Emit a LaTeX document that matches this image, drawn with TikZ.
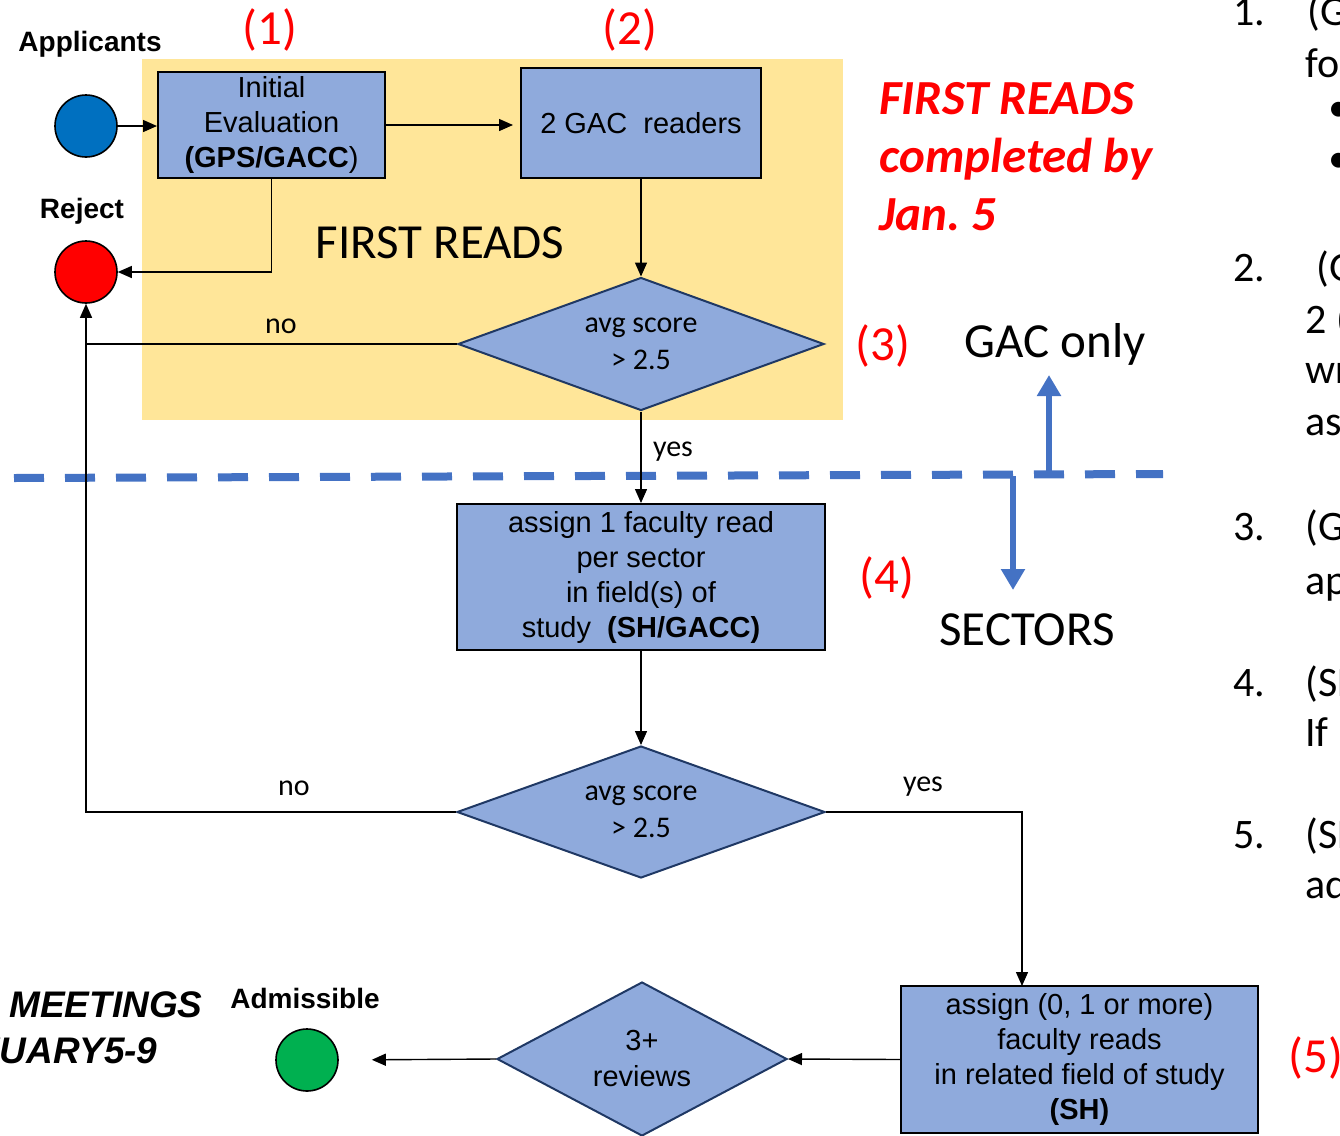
\documentclass[tikz,border=0pt]{standalone}
\usepackage{fontspec}
\setmainfont{Carlito}
\newfontfamily\arialfont{Liberation Sans}
\usetikzlibrary{arrows.meta}
\usetikzlibrary{positioning}
\usetikzlibrary{shapes.geometric}
\frenchspacing
\definecolor{boxblue}{RGB}{143,170,220}
\definecolor{readyellow}{RGB}{255,230,153}
\definecolor{splitblue}{RGB}{68,114,196}
\definecolor{edgenavy}{RGB}{31,56,100}
\definecolor{appblue}{RGB}{0,112,192}
\definecolor{admgreen}{RGB}{0,176,80}
\tikzset{
    process box/.style={
        draw=black,
        line width=1pt,
        fill=boxblue,
        align=center,
        inner sep=0,
        font=\arialfont\fontsize{14.5}{17.5}\selectfont,
    },
    decision/.style={
        diamond,
        draw=edgenavy,
        line width=1pt,
        fill=boxblue,
        align=center,
        inner sep=0,
    },
    state dot/.style={
        draw,
        circle,
        line width=0.8pt,
        minimum size=31pt,
        inner sep=0,
    },
    flow line/.style={
        line width=0.7pt,
    },
    flow arrow/.style={
        flow line,
        -{Triangle[length=7pt,width=6pt]},
    },
    split arrow/.style={
        splitblue,
        line width=2.8pt,
        -{Triangle[length=10.5pt,width=11.5pt]},
    },
    step number/.style={
        text=red,
        font=\fontsize{24.5}{29}\selectfont,
    },
    side label/.style={
        font=\fontsize{24.5}{29}\selectfont,
    },
    branch label/.style={
        font=\fontsize{15}{18}\selectfont,
    },
    dot label/.style={
        font=\arialfont\bfseries\fontsize{14}{17}\selectfont,
    },
    list text/.style={
        anchor=base west,
        inner sep=0,
        font=\fontsize{21}{25}\selectfont,
    },
}

\begin{document}
\begin{tikzpicture}[x=0.5pt,y=-0.5pt]
    \useasboundingbox (0,0) rectangle (1340,1136);

    \fill[readyellow] (142,59) rectangle (843,420);

    % separator between GAC and sectors
    \coordinate (splitleft) at (14,478);
    \coordinate (splitright) at (1163,474);
    \draw[splitblue, line width=4pt, dash pattern=on 15pt off 10.5pt] (splitleft) -- (splitright);
    \coordinate (upfoot) at (1049,474);
    \coordinate (uptip) at (1049,375);
    \coordinate (downfoot) at (1013,476);
    \coordinate (downtip) at (1013,590);
    \draw[split arrow] (upfoot) -- (uptip);
    \draw[split arrow] (downfoot) -- (downtip);

    \node[state dot, fill=appblue] (app) at (86,126) {};
    \node[state dot, fill=red] (reject) at (86,272) {};
    \node[state dot, fill=admgreen] (adm) at (307,1060) {};
    \node[dot label] (applbl) at (90,44) {Applicants};
    \node[dot label] (rejlbl) at (82,211) {Reject};
    \node[dot label] (admlbl) at (305,998) {Admissible};

    \node[process box, minimum width=113.5pt, minimum height=53pt] (init) at (271.5,125)
        {Initial\\Evaluation\\\textbf{(GPS/GACC})};
    \node[process box, minimum width=120pt, minimum height=55pt] (gac) at (641,123)
        {2 GAC\ \ readers};
    \node[decision, aspect=2.75, minimum width=183pt, minimum height=66.5pt,
        font=\fontsize{15}{18.5}\selectfont] (firstcheck) at (641,344) {avg score\\> 2.5};
    \node[process box, minimum width=184pt, minimum height=73pt] (sector) at (641,577)
        {assign 1 faculty read\\per sector\\in field(s) of\\study\ \ \textbf{(SH/GACC)}};
    \node[decision, aspect=2.75, minimum width=184pt, minimum height=66pt,
        font=\fontsize{15}{18.5}\selectfont] (secondcheck) at (641,812) {avg score\\> 2.5};
    \node[process box, minimum width=178.5pt, minimum height=73.5pt] (related) at (1079.5,1059.5)
        {assign (0, 1 or more)\\faculty reads\\in related field of study\\\textbf{(SH)}};
    \node[decision, aspect=1.88, minimum width=145pt, minimum height=77pt,
        font=\arialfont\fontsize{14.5}{18}\selectfont] (reviews) at (642,1059) {3+\\reviews};

    \coordinate (yesdrop) at (1022,986);

    \draw[flow arrow] (app.east) -- (app.east -| init.west);
    \draw[flow arrow, shorten >=3.5pt] (init.east) -- (init.east -| gac.west);
    \draw[flow arrow] (init.south) |- (reject.east);
    \draw[flow arrow] (gac.south) -- (firstcheck.north);
    \draw[flow line] (firstcheck.west) -- (firstcheck.west -| reject.south);
    \draw[flow arrow] (secondcheck.west) -| (reject.south);
    \draw[flow arrow] (firstcheck.south) -- (sector.north);
    \draw[flow arrow] (sector.south) -- (secondcheck.north);
    \draw[flow arrow] (secondcheck.east) -| (yesdrop);
    \draw[flow arrow] (related.west) -- (reviews.east);
    \draw[flow arrow, shorten >=16.5pt] (reviews.west) -- (adm.east);

    \node[branch label] (nofirst) at (281,326) {no};
    \node[branch label] (nosecond) at (294,788) {no};
    \node[branch label] (yesfirst) at (673,452) {yes};
    \node[branch label] (yessecond) at (923,787) {yes};

    \foreach \n/\px/\py in {1/270/30, 2/630/30, 3/883/346, 4/887/578, 5/1316/1058}
    {
        \node[step number] (num\n) at (\px,\py) {(\n)};
    }

    \node[side label] (readslbl) at (440,243) {FIRST READS};
    \node[side label] (gaconly) at (1055,344) {GAC only};
    \node[side label] (sectors) at (1027,630) {SECTORS};
    \node[side label, text=red, anchor=west, align=left, inner sep=0,
        font=\bfseries\itshape\fontsize{24.5}{29}\selectfont] (deadline) at (879,157)
        {FIRST READS\\completed by\\Jan. 5};

    \node[anchor=east, inner sep=0, font=\arialfont\bfseries\itshape\fontsize{18.5}{22}\selectfont]
        (meet) at (203,1005) {MEETINGS};
    \node[anchor=east, inner sep=0, font=\arialfont\bfseries\itshape\fontsize{18.5}{22}\selectfont]
        (meetdays) at (158,1051) {JANUARY5-9};

    % cut-off notes on the right
    \foreach \lx/\ly/\lt [count=\i] in {1233/25/1., 1307/25/(G, 1305/77/fo, 1328/121/\textbullet, 1328/172/\textbullet,
        1233/281/2., 1316/281/(G, 1305/333/2 (, 1305/383/wr, 1305/435/as,
        1233/540/3., 1305/540/(G, 1305/594/ap,
        1233/696/4., 1305/696/(SH, 1305/746/If,
        1233/848/5., 1305/848/(SH, 1305/898/ad}
    {
        \node[list text] (note\i) at (\lx,\ly) {\lt};
    }
\end{tikzpicture}
\end{document}
